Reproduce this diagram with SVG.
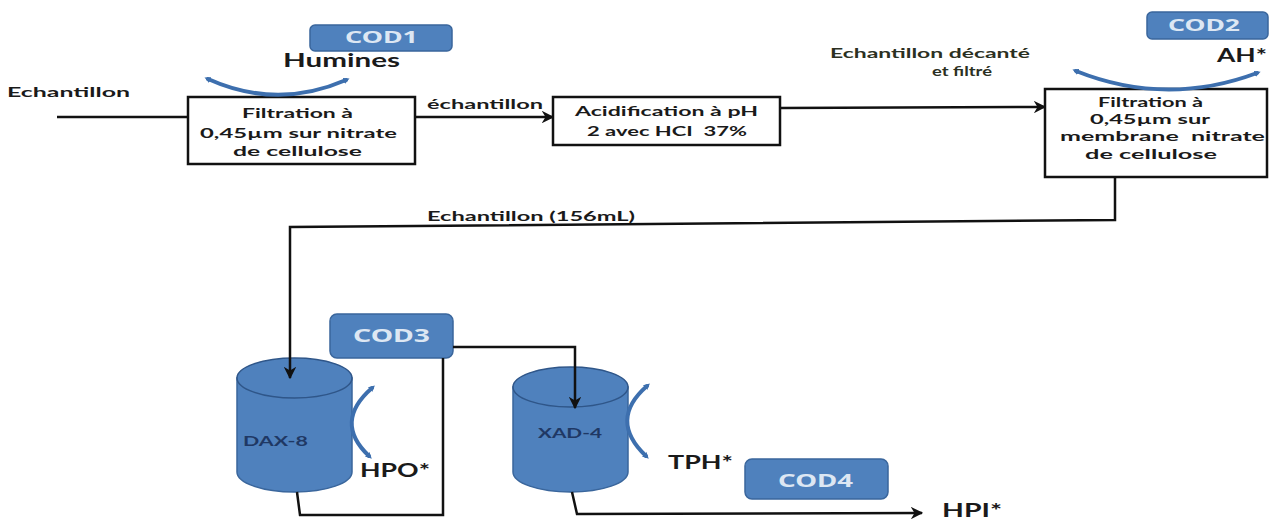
<svg xmlns="http://www.w3.org/2000/svg" width="1275" height="520" viewBox="0 0 1275 520">
<style>
text{font-family:Lato,"Liberation Sans",sans-serif;font-weight:bold;fill:#1a1a1a}
.bt{font-size:14px}
.lbl{font-size:14px}
.big{font-size:18px}
.cod{font-size:16px;fill:#dde7f3;font-family:"Noto Sans",Lato,sans-serif}
.codbox{fill:#4f81bd;stroke:#3a669c;stroke-width:1.5}
.box{fill:#fff;stroke:#111;stroke-width:2.5}
.conn{fill:none;stroke:#111;stroke-width:2.5}
.arc{fill:none;stroke:#3d6fae;stroke-width:4;stroke-linecap:round}
.cyl{fill:#4f81bd;stroke:#3a669c;stroke-width:1.5}
.cyltop{fill:#4f81bd;stroke:#2f5689;stroke-width:1.5}
.cl{font-size:14px;fill:#1f3864}
</style>
<defs>
<marker id="ah" viewBox="0 0 10 10" refX="9" refY="5" markerWidth="5" markerHeight="5" orient="auto" markerUnits="strokeWidth">
<path d="M0,0 L10,5 L0,10 L3,5 z" fill="#111"/>
</marker>
<marker id="bh" viewBox="0 0 10 10" refX="4" refY="5" markerWidth="1.6" markerHeight="1.6" orient="auto-start-reverse" markerUnits="strokeWidth">
<path d="M0,0 L10,5 L0,10 z" fill="#3d6fae"/>
</marker>
</defs>

<g id="filtration1">
<rect class="box" x="188" y="97" width="227" height="67"/>
<text class="bt" x="242" y="118" textLength="111" lengthAdjust="spacingAndGlyphs">Filtration à</text>
<text class="bt" x="200" y="138" textLength="197" lengthAdjust="spacingAndGlyphs">0,45µm sur nitrate</text>
<text class="bt" x="233" y="156" textLength="129" lengthAdjust="spacingAndGlyphs">de cellulose</text>
</g>

<g id="humines">
<path class="arc" d="M208,79 Q277,110 346,80" marker-start="url(#bh)" marker-end="url(#bh)"/>
<text class="big" x="283" y="67" textLength="117" lengthAdjust="spacingAndGlyphs">Humines</text>
</g>

<g id="cod1">
<rect class="codbox" x="310" y="25" width="142" height="26" rx="5"/>
<text class="cod" x="345" y="43" textLength="73" lengthAdjust="spacingAndGlyphs">COD1</text>
</g>

<g id="acidification">
<rect class="box" x="553" y="97" width="227" height="48"/>
<text class="bt" x="575" y="116" textLength="183" lengthAdjust="spacingAndGlyphs">Acidification à pH</text>
<text class="bt" x="587" y="136" textLength="160" lengthAdjust="spacingAndGlyphs" xml:space="preserve">2 avec HCI  37%</text>
</g>

<g id="filtration2">
<rect class="box" x="1045" y="89" width="222" height="88"/>
<text class="bt" x="1098" y="107" textLength="105" lengthAdjust="spacingAndGlyphs">Filtration à</text>
<text class="bt" x="1090" y="124" textLength="120" lengthAdjust="spacingAndGlyphs">0,45µm sur</text>
<text class="bt" x="1060" y="141" textLength="205" lengthAdjust="spacingAndGlyphs" xml:space="preserve">membrane  nitrate</text>
<text class="bt" x="1085" y="159" textLength="132" lengthAdjust="spacingAndGlyphs">de cellulose</text>
</g>

<g id="ah-out">
<path class="arc" d="M1076,71 Q1166,107 1257,73" marker-start="url(#bh)" marker-end="url(#bh)"/>
<text class="big" x="1217" y="62" textLength="50" lengthAdjust="spacingAndGlyphs">AH*</text>
</g>

<g id="cod2">
<rect class="codbox" x="1147" y="12" width="121" height="27" rx="5"/>
<text class="cod" x="1168" y="31" textLength="72" lengthAdjust="spacingAndGlyphs">COD2</text>
</g>

<g id="dax8">
<path class="cyl" d="M237,378 L237,472 A57.5,20 0 0 0 352,472 L352,378 Z"/>
<ellipse class="cyltop" cx="294.5" cy="378" rx="57.5" ry="20"/>
<text class="cl" x="243" y="446" textLength="65" lengthAdjust="spacingAndGlyphs">DAX-8</text>
<path class="arc" d="M372,388 Q333,422 369,456" stroke-width="3.5" marker-start="url(#bh)" marker-end="url(#bh)"/>
<text class="big" x="360" y="477" textLength="70" lengthAdjust="spacingAndGlyphs">HPO*</text>
</g>

<g id="cod3">
<rect class="codbox" x="330" y="314" width="123" height="44" rx="7"/>
<text class="cod" x="353" y="342" textLength="77" lengthAdjust="spacingAndGlyphs" style="font-size:18px">COD3</text>
</g>

<g id="xad4">
<path class="cyl" d="M513,387 L513,472 A57.5,20 0 0 0 628,472 L628,387 Z"/>
<ellipse class="cyltop" cx="570.5" cy="387" rx="57.5" ry="20"/>
<text class="cl" x="538" y="438" textLength="64" lengthAdjust="spacingAndGlyphs">XAD-4</text>
<path class="arc" d="M647,386 Q608,420 646,456" stroke-width="3.5" marker-start="url(#bh)" marker-end="url(#bh)"/>
<text class="big" x="668" y="469" textLength="65" lengthAdjust="spacingAndGlyphs">TPH*</text>
</g>

<g id="cod4">
<rect class="codbox" x="745" y="459" width="143" height="40" rx="7"/>
<text class="cod" x="778" y="487" textLength="75" lengthAdjust="spacingAndGlyphs" style="font-size:17px">COD4</text>
</g>

<g id="hpi">
<text class="big" x="942" y="517" textLength="60" lengthAdjust="spacingAndGlyphs">HPI*</text>
</g>

<g id="connectors">
<line class="conn" x1="57" y1="117" x2="188" y2="117"/>
<line class="conn" x1="415" y1="117" x2="553" y2="117" marker-end="url(#ah)"/>
<line class="conn" x1="780" y1="108" x2="1045" y2="107" marker-end="url(#ah)"/>
<polyline class="conn" points="1115,177 1115,220 290,227 290,378" marker-end="url(#ah)"/>
<polyline class="conn" points="453,347 575,347 575,408" marker-end="url(#ah)"/>
<polyline class="conn" points="297,492 300,515 443,515 443,358"/>
<polyline class="conn" points="572,492 577,514 922,513" marker-end="url(#ah)"/>
<text class="lbl" x="7" y="97" textLength="123" lengthAdjust="spacingAndGlyphs">Echantillon</text>
<text class="lbl" x="427" y="109" textLength="116" lengthAdjust="spacingAndGlyphs">échantillon</text>
<text class="lbl" x="830" y="58" textLength="200" lengthAdjust="spacingAndGlyphs" style="fill:#2b3022">Echantillon décanté</text>
<text class="lbl" x="932" y="76" textLength="60" lengthAdjust="spacingAndGlyphs" style="fill:#2b3022">et filtré</text>
<text class="lbl" x="427" y="221" textLength="208" lengthAdjust="spacingAndGlyphs">Echantillon (156mL)</text>
</g>
</svg>
